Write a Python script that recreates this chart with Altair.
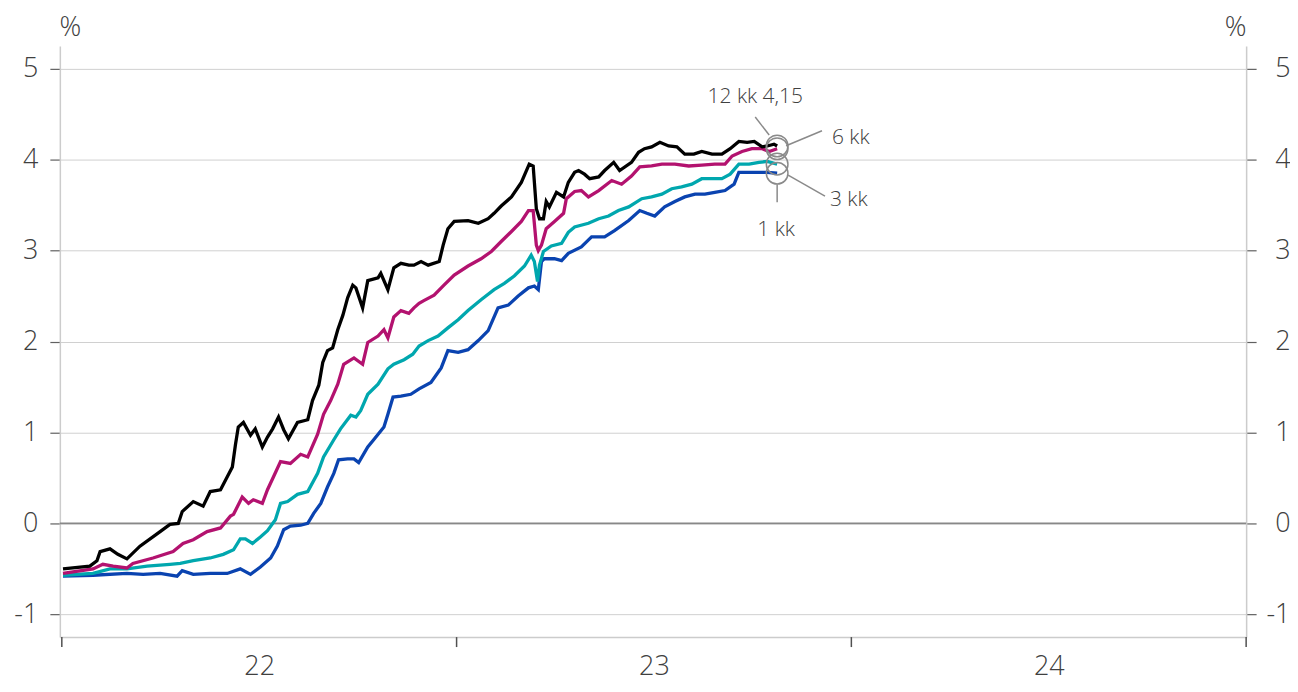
import altair as alt
import pandas as pd

BASE_YEAR = 2022
FONT = "Open Sans"
TEXT = "#404040"

# Euribor rates, % ; time = years since 1.1.2022
t12 = [0.003, 0.071, 0.089, 0.097, 0.122, 0.142, 0.165, 0.198, 0.249, 0.274, 0.295, 0.305,
       0.333, 0.358, 0.376, 0.402, 0.432, 0.440, 0.447, 0.460, 0.478, 0.490, 0.508, 0.521,
       0.534, 0.549, 0.562, 0.574, 0.597, 0.623, 0.635, 0.651, 0.661, 0.673, 0.686, 0.699,
       0.712, 0.724, 0.737, 0.745, 0.762, 0.775, 0.801, 0.808, 0.826, 0.841, 0.859, 0.879,
       0.892, 0.910, 0.928, 0.956, 0.966, 0.978, 0.994, 1.029, 1.055, 1.080, 1.095, 1.113,
       1.139, 1.164, 1.184, 1.194, 1.202, 1.210, 1.220, 1.227, 1.235, 1.253, 1.271, 1.283,
       1.299, 1.309, 1.324, 1.337, 1.360, 1.375, 1.398, 1.413, 1.443, 1.461, 1.476, 1.494,
       1.515, 1.537, 1.558, 1.578, 1.601, 1.621, 1.647, 1.672, 1.693, 1.715, 1.736, 1.754,
       1.774, 1.787, 1.804, 1.812]
v12 = [-0.50, -0.47, -0.41, -0.31, -0.28, -0.34, -0.39, -0.25, -0.09, -0.01, 0.00, 0.13,
       0.24, 0.19, 0.35, 0.37, 0.62, 0.87, 1.06, 1.11, 0.97, 1.04, 0.84, 0.95,
       1.04, 1.17, 1.03, 0.93, 1.11, 1.14, 1.35, 1.52, 1.77, 1.90, 1.93, 2.13,
       2.29, 2.48, 2.62, 2.59, 2.37, 2.67, 2.70, 2.75, 2.57, 2.81, 2.86, 2.84,
       2.84, 2.88, 2.84, 2.88, 3.06, 3.24, 3.32, 3.33, 3.30, 3.35, 3.41, 3.49,
       3.59, 3.75, 3.95, 3.93, 3.46, 3.35, 3.35, 3.54, 3.48, 3.64, 3.59, 3.75,
       3.86, 3.88, 3.84, 3.79, 3.81, 3.88, 3.97, 3.88, 3.97, 4.08, 4.12, 4.14,
       4.19, 4.15, 4.14, 4.06, 4.06, 4.09, 4.06, 4.06, 4.12, 4.20, 4.19, 4.20,
       4.14, 4.15, 4.17, 4.15]

t6 = [0.003, 0.079, 0.104, 0.130, 0.165, 0.180, 0.231, 0.282, 0.307, 0.333, 0.368, 0.402,
      0.427, 0.435, 0.457, 0.473, 0.485, 0.508, 0.521, 0.536, 0.554, 0.579, 0.605, 0.623,
      0.648, 0.663, 0.681, 0.699, 0.714, 0.740, 0.762, 0.775, 0.801, 0.816, 0.826, 0.841,
      0.859, 0.879, 0.892, 0.905, 0.917, 0.943, 0.968, 0.994, 1.029, 1.062, 1.088, 1.113,
      1.139, 1.164, 1.182, 1.194, 1.202, 1.207, 1.215, 1.227, 1.248, 1.271, 1.278, 1.299,
      1.316, 1.334, 1.360, 1.393, 1.418, 1.443, 1.464, 1.494, 1.520, 1.553, 1.588, 1.621,
      1.654, 1.680, 1.698, 1.723, 1.748, 1.774, 1.792, 1.812]
v6 = [-0.55, -0.50, -0.45, -0.47, -0.49, -0.44, -0.38, -0.31, -0.22, -0.18, -0.09, -0.05,
      0.08, 0.10, 0.29, 0.22, 0.26, 0.22, 0.37, 0.51, 0.68, 0.66, 0.76, 0.73,
      0.98, 1.20, 1.35, 1.53, 1.75, 1.82, 1.75, 1.99, 2.06, 2.13, 2.04, 2.27,
      2.34, 2.31, 2.37, 2.42, 2.45, 2.51, 2.62, 2.73, 2.83, 2.91, 2.99, 3.10,
      3.21, 3.32, 3.44, 3.44, 3.06, 3.00, 3.06, 3.24, 3.32, 3.41, 3.57, 3.65,
      3.66, 3.59, 3.66, 3.77, 3.73, 3.82, 3.92, 3.93, 3.95, 3.95, 3.93, 3.94,
      3.95, 3.95, 4.04, 4.09, 4.12, 4.12, 4.09, 4.12]

t3 = [0.003, 0.079, 0.122, 0.165, 0.216, 0.274, 0.300, 0.333, 0.376, 0.409, 0.435, 0.452,
      0.465, 0.483, 0.503, 0.521, 0.541, 0.554, 0.572, 0.597, 0.623, 0.648, 0.663, 0.689,
      0.706, 0.732, 0.745, 0.757, 0.775, 0.801, 0.826, 0.841, 0.867, 0.889, 0.905, 0.928,
      0.953, 0.978, 1.004, 1.029, 1.062, 1.095, 1.121, 1.146, 1.172, 1.189, 1.197, 1.205,
      1.210, 1.220, 1.240, 1.266, 1.283, 1.299, 1.334, 1.360, 1.385, 1.410, 1.436, 1.469,
      1.494, 1.520, 1.545, 1.570, 1.596, 1.621, 1.647, 1.672, 1.693, 1.715, 1.741, 1.766,
      1.787, 1.812]
v3 = [-0.57, -0.55, -0.50, -0.50, -0.47, -0.45, -0.44, -0.41, -0.38, -0.34, -0.29, -0.17,
      -0.17, -0.22, -0.15, -0.08, 0.04, 0.22, 0.24, 0.32, 0.35, 0.55, 0.73, 0.92,
      1.04, 1.19, 1.17, 1.24, 1.42, 1.53, 1.70, 1.75, 1.80, 1.86, 1.95, 2.01,
      2.06, 2.15, 2.24, 2.34, 2.46, 2.57, 2.64, 2.72, 2.83, 2.95, 2.88, 2.66,
      2.84, 2.99, 3.05, 3.08, 3.20, 3.26, 3.30, 3.35, 3.38, 3.44, 3.48, 3.57,
      3.59, 3.62, 3.68, 3.70, 3.73, 3.79, 3.79, 3.79, 3.84, 3.95, 3.95, 3.97,
      3.98, 3.95]

t1 = [0.003, 0.079, 0.165, 0.206, 0.249, 0.292, 0.305, 0.333, 0.376, 0.419, 0.452, 0.478,
      0.503, 0.529, 0.546, 0.562, 0.579, 0.605, 0.623, 0.638, 0.656, 0.673, 0.689, 0.701,
      0.724, 0.740, 0.752, 0.775, 0.790, 0.816, 0.826, 0.839, 0.859, 0.884, 0.905, 0.935,
      0.961, 0.978, 1.004, 1.029, 1.055, 1.080, 1.105, 1.131, 1.156, 1.182, 1.197, 1.207,
      1.215, 1.222, 1.248, 1.266, 1.283, 1.316, 1.342, 1.375, 1.400, 1.436, 1.464, 1.482,
      1.502, 1.527, 1.553, 1.578, 1.604, 1.629, 1.654, 1.680, 1.703, 1.715, 1.741, 1.766,
      1.787, 1.812]
v1 = [-0.58, -0.57, -0.55, -0.56, -0.55, -0.58, -0.52, -0.56, -0.55, -0.55, -0.50, -0.56,
      -0.48, -0.38, -0.25, -0.07, -0.03, -0.02, 0.00, 0.11, 0.22, 0.40, 0.55, 0.70,
      0.71, 0.71, 0.67, 0.84, 0.92, 1.06, 1.20, 1.39, 1.40, 1.42, 1.48, 1.55,
      1.71, 1.90, 1.88, 1.91, 2.01, 2.12, 2.37, 2.40, 2.50, 2.59, 2.61, 2.57,
      2.88, 2.91, 2.91, 2.89, 2.97, 3.04, 3.15, 3.15, 3.22, 3.33, 3.44, 3.41,
      3.38, 3.48, 3.54, 3.59, 3.62, 3.62, 3.64, 3.66, 3.73, 3.86, 3.86, 3.86,
      3.86, 3.85]

series_names = ["1 kk", "3 kk", "6 kk", "12 kk"]
series_colors = ["#0a43b0", "#00a7ae", "#b3126f", "#000000"]
series_t = [t1, t3, t6, t12]
series_v = [v1, v3, v6, v12]

year_ticks = [2022, 2023, 2024, 2025]
year_label_pos = [2022.5, 2023.5, 2024.5]
y_ticks = [-1, 0, 1, 2, 3, 4, 5]

# end-point annotation texts and their offsets (px) from the end point
ann_text = ["1 kk", "3 kk", "6 kk", "12 kk 4,15"]
ann_dx = [-1, 53, 55, -22]
ann_dy = [63, 42, -5, -43]
ann_align = ["center", "left", "left", "center"]
# leader line offsets (px): start (sx, sy) -> end (ex, ey)
lead_sx = [0, 11, 9, -8]
lead_sy = [11, 11, -3, -11]
lead_ex = [0, 48, 45, -22]
lead_ey = [29, 32, -18, -29]

W, H = 1190, 593
xscale = alt.Scale(domain=[2021.995, 2025.0], nice=False, zero=False)
yscale = alt.Scale(domain=[-1.25, 5.25], nice=False, zero=False)

x_axis = alt.Axis(values=year_label_pos, labelExpr="'' + (floor(datum.value) - 2000)",
                  ticks=False, tickSize=0, grid=False, domain=True, domainColor="#cccccc",
                  domainWidth=1.5, labelFontSize=27, labelFont=FONT, labelFontWeight=300,
                  labelColor=TEXT, labelPadding=38, labelBaseline="alphabetic",
                  labelFlush=False, title=None)

common_y = dict(values=y_ticks, labelExpr="'' + datum.value", tickSize=10, tickColor="#606060",
                tickWidth=1.2, domain=True, domainColor="#cccccc", domainWidth=1.5,
                labelFontSize=27, labelFont=FONT, labelFontWeight=300, labelColor=TEXT,
                title="%", titleAngle=0, titleY=-10, titleAlign="center",
                titleBaseline="alphabetic", titleFontSize=27, titleFont=FONT,
                titleFontWeight=300, titleColor=TEXT)
y_left = alt.Axis(orient="left", grid=True, gridColor="#d0d0d0", gridWidth=1,
                  labelPadding=12, titleX=10, **common_y)
y_right = alt.Axis(orient="right", grid=False, labelAlign="right", labelPadding=34,
                   titleX=-11, **common_y)

def X(field):
    return alt.X(field, scale=xscale, axis=x_axis)

def Y(field, axis=None):
    return alt.Y(field, scale=yscale, axis=axis)

layers = []

# year tick marks on the bottom axis
ticks_df = pd.DataFrame({"yr": year_ticks})
layers.append(alt.Chart(ticks_df).mark_rule(color="#505050", strokeWidth=1.5).encode(
    x=X("yr:Q"), y=alt.value(H), y2=alt.value(H + 10)))

# zero line (carries the right-hand axis)
zero_df = pd.DataFrame({"v": [0]})
layers.append(alt.Chart(zero_df).mark_rule(color="#888888", strokeWidth=1.7).encode(
    y=Y("v:Q", y_right)))

end_rows = []
for i, (name, col, ts, vs) in enumerate(zip(series_names, series_colors, series_t, series_v)):
    df = pd.DataFrame({"t": [BASE_YEAR + t for t in ts], "v": vs})
    layers.append(alt.Chart(df).mark_line(color=col, strokeWidth=3.3).encode(
        x=X("t:Q"), y=Y("v:Q", y_left if i == 0 else None)))
    end_rows.append({"t": BASE_YEAR + ts[-1], "v": vs[-1], "name": name})

ends = pd.DataFrame(end_rows)
layers.append(alt.Chart(ends).mark_point(shape="circle", size=470, filled=False,
                                         color="#8a8a8a", strokeWidth=1.5, opacity=1).encode(
    x=X("t:Q"), y=Y("v:Q")))

for i in range(len(series_names)):
    one = ends.iloc[[i]]
    layers.append(alt.Chart(one).mark_rule(color="#8a8a8a", strokeWidth=1.5,
                                           xOffset=lead_sx[i], yOffset=lead_sy[i],
                                           x2Offset=lead_ex[i], y2Offset=lead_ey[i]).encode(
        x=X("t:Q"), x2="t:Q", y=Y("v:Q"), y2="v:Q"))
    layers.append(alt.Chart(one).mark_text(text=ann_text[i], align=ann_align[i],
                                           baseline="alphabetic", dx=ann_dx[i], dy=ann_dy[i],
                                           font=FONT, fontSize=21, fontWeight=300,
                                           color=TEXT).encode(
        x=X("t:Q"), y=Y("v:Q")))

chart = alt.layer(*layers).resolve_axis(y="independent").properties(
    width=W, height=H,
    padding={"left": 52, "top": 37, "right": 44, "bottom": 46},
    autosize=alt.AutoSizeParams(type="none"),
).configure_view(stroke=None)

chart.save("out.html", embed_options={"renderer": "svg", "actions": False})
